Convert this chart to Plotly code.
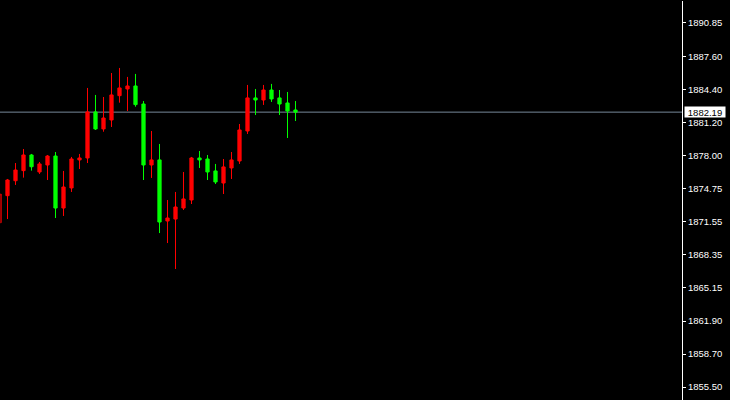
import plotly.graph_objects as go

# Bar index (time order)
bars = list(range(38))

opens = [1871.45, 1874.08, 1875.53, 1876.51, 1878.03, 1876.38, 1877.06, 1877.93, 1872.88, 1874.83,
         1877.55, 1877.74, 1882.21, 1880.56, 1881.43, 1883.79, 1884.44, 1884.73, 1882.98, 1877.06,
         1877.55, 1871.62, 1871.81, 1872.88, 1873.66, 1877.74, 1877.64, 1876.48, 1875.31, 1876.77,
         1877.45, 1880.36, 1883.57, 1883.37, 1884.34, 1883.57, 1883.08, 1882.40]
highs = [1874.30, 1875.70, 1877.25, 1878.61, 1878.13, 1877.35, 1878.03, 1878.32, 1876.48, 1877.84,
         1878.13, 1884.54, 1883.86, 1883.66, 1885.99, 1886.48, 1885.61, 1885.90, 1883.27, 1880.36,
         1879.10, 1873.66, 1874.44, 1876.38, 1877.84, 1878.42, 1878.03, 1877.16, 1877.64, 1878.32,
         1881.04, 1884.83, 1884.44, 1884.83, 1884.93, 1884.34, 1884.15, 1883.27]
lows = [1871.40, 1871.81, 1875.12, 1875.83, 1876.51, 1876.19, 1875.60, 1871.91, 1872.11, 1874.44,
        1876.67, 1877.25, 1880.46, 1880.29, 1880.75, 1883.11, 1882.30, 1882.72, 1875.60, 1875.80,
        1870.45, 1869.48, 1866.96, 1872.69, 1873.27, 1876.77, 1875.60, 1875.21, 1874.24, 1875.70,
        1877.16, 1880.07, 1881.91, 1882.89, 1883.18, 1881.91, 1879.68, 1881.33]
closes = [1874.24, 1875.60, 1876.57, 1878.03, 1876.89, 1877.16, 1877.93, 1872.88, 1874.92, 1877.64,
          1877.74, 1882.21, 1880.56, 1881.62, 1883.86, 1884.54, 1884.73, 1882.92, 1877.06, 1877.55,
          1871.52, 1871.91, 1872.98, 1873.76, 1877.74, 1877.55, 1876.38, 1875.41, 1876.87, 1877.55,
          1880.46, 1883.57, 1883.37, 1884.34, 1883.47, 1882.98, 1882.30, 1882.19]

tick_vals = [1890.85, 1887.60, 1884.40, 1881.20, 1878.00, 1874.75, 1871.55, 1868.35,
             1865.15, 1861.90, 1858.70, 1855.50]
tick_text = ["1890.85", "1887.60", "1884.40", "1881.20", "1878.00", "1874.75", "1871.55",
             "1868.35", "1865.15", "1861.90", "1858.70", "1855.50"]

last_price = 1882.19
last_label = "1882.19"

x_range = [0.125, 85.3125]
y_range = [1854.24, 1893.03]

fig = go.Figure()
fig.add_trace(go.Candlestick(
    x=bars, open=opens, high=highs, low=lows, close=closes,
    increasing=dict(line=dict(color="#ff0000", width=1), fillcolor="#ff0000"),
    decreasing=dict(line=dict(color="#00ff00", width=1), fillcolor="#00ff00"),
    whiskerwidth=0, showlegend=False, hoverinfo="skip",
))

fig.add_shape(type="line", xref="paper", x0=0, x1=1, yref="y", y0=last_price, y1=last_price,
              line=dict(color="#778899", width=1), layer="below")

fig.add_annotation(x=1, xref="paper", y=last_price, yref="y", text=last_label,
                   showarrow=False, xanchor="left", yanchor="middle", xshift=2,
                   bgcolor="#ffffff", borderpad=0, width=40, height=10,
                   font=dict(family="Liberation Sans", size=9.5, color="#000000"))

fig.update_layout(
    width=730, height=400,
    margin=dict(l=0, r=48, t=0, b=0),
    paper_bgcolor="#000000", plot_bgcolor="#000000",
    boxgap=0.42,
    showlegend=False,
    xaxis=dict(range=x_range, domain=[0.5 / 682, 1], visible=False,
               rangeslider=dict(visible=False), fixedrange=True),
    yaxis=dict(range=y_range, domain=[0, 1 - 0.5 / 400], side="right", showgrid=False,
               zeroline=False, showline=True, linecolor="#ffffff", linewidth=1,
               ticks="outside", ticklen=3, tickcolor="#ffffff",
               tickvals=tick_vals, ticktext=tick_text,
               tickfont=dict(family="Liberation Sans", size=9.5, color="#ffffff")),
)

fig.write_html(
    "out.html",
    config={"displayModeBar": False},
    post_script="document.body.style.margin='0';document.body.style.padding='0';"
                "document.body.style.background='#000000';document.body.style.overflow='hidden';",
)
